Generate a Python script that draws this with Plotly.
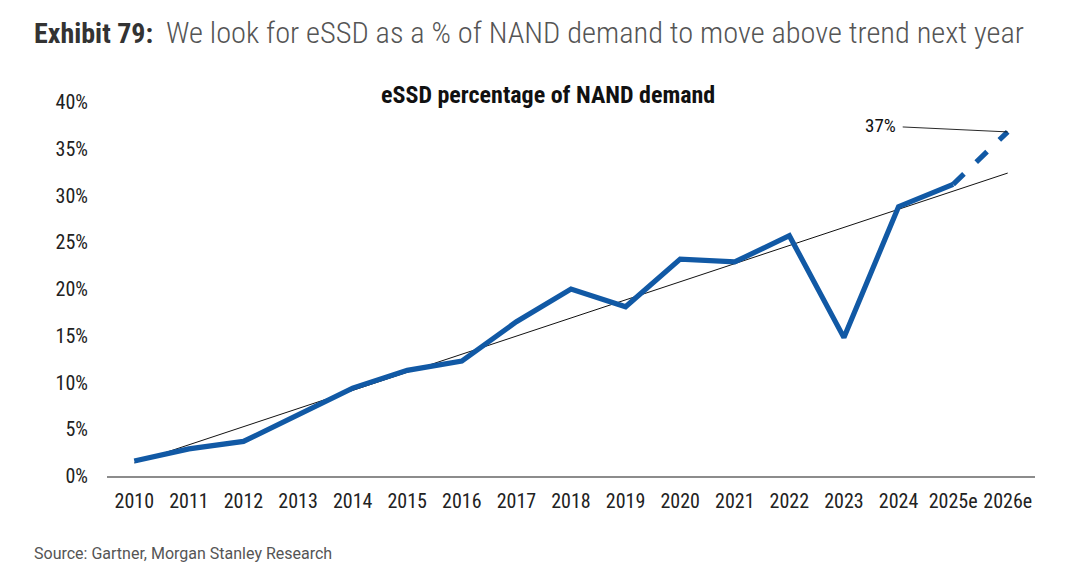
import plotly.graph_objects as go

categories = ["2010", "2011", "2012", "2013", "2014", "2015", "2016", "2017", "2018",
              "2019", "2020", "2021", "2022", "2023", "2024", "2025e", "2026e"]
essd_pct = [1.6, 2.9, 3.7, 6.5, 9.4, 11.3, 12.3, 16.5, 20.0,
            18.1, 23.2, 22.9, 25.7, 14.8, 28.8, 31.2, 36.8]
trend_categories = ["2010", "2026e"]
trend_values = [1.4, 32.4]
y_ticks = [0, 5, 10, 15, 20, 25, 30, 35, 40]
y_tick_labels = ["0%", "5%", "10%", "15%", "20%", "25%", "30%", "35%", "40%"]

FONT = "Roboto Condensed, Liberation Sans Narrow, DejaVu Sans Condensed, Roboto, sans-serif"
BLUE = "#1159A5"

fig = go.Figure()

fig.add_trace(go.Scatter(
    x=trend_categories, y=trend_values, mode="lines",
    line=dict(color="#111111", width=1), hoverinfo="skip", showlegend=False))

fig.add_trace(go.Scatter(
    x=categories[:-1], y=essd_pct[:-1], mode="lines",
    line=dict(color=BLUE, width=5.2), showlegend=False))

fig.add_trace(go.Scatter(
    x=categories[-2:], y=essd_pct[-2:], mode="lines",
    line=dict(color=BLUE, width=5.2, dash="15px,17px"), showlegend=False))

fig.add_annotation(
    x=categories[-1], y=essd_pct[-1], xref="x", yref="y",
    text="37%", showarrow=True, arrowhead=0, arrowwidth=0.9, arrowcolor="#111111",
    ax=-127, ay=-6, startstandoff=5,
    font=dict(family=FONT, size=19, color="#111111"))

fig.add_annotation(
    xref="paper", yref="paper", x=0.475, y=1.02, xanchor="center", yanchor="middle",
    text="<b>eSSD percentage of NAND demand</b>", showarrow=False,
    font=dict(family=FONT, size=24, color="#111111"))

fig.add_annotation(
    xref="paper", yref="paper", x=-0.081, y=1.1845, xanchor="left", yanchor="middle",
    text="<span style='font-weight:bold;color:#333333'>Exhibit 79:</span>  "
         "<span style='font-weight:300;font-size:30.4px'>We look for eSSD as a % of NAND demand to move above trend next year</span>",
    showarrow=False, font=dict(family=FONT, size=28, color="#555555"))

fig.add_annotation(
    xref="paper", yref="paper", x=-0.081, y=-0.206, xanchor="left", yanchor="middle",
    text="Source: Gartner, Morgan Stanley Research", showarrow=False,
    font=dict(family="Roboto, sans-serif", size=16, color="#555555"))

fig.update_xaxes(
    type="category", categoryorder="array", categoryarray=categories,
    range=[-0.5, len(categories) - 0.5],
    showgrid=False, showline=True, linecolor="#8C8C8C", linewidth=2,
    ticks="", tickfont=dict(family=FONT, size=20, color="#222222"), ticklabelstandoff=6)

fig.update_yaxes(
    range=[0, 40], tickvals=y_ticks, ticktext=y_tick_labels,
    showgrid=False, zeroline=False, showline=False, ticks="",
    tickfont=dict(family=FONT, size=20, color="#222222"), ticklabelstandoff=18)

fig.update_layout(
    width=1080, height=568,
    margin=dict(l=107, r=45, t=102, b=92),
    plot_bgcolor="white", paper_bgcolor="white",
    showlegend=False)

fig.write_html("out.html", config={"displayModeBar": False},
               post_script="document.body.style.margin='0';")
